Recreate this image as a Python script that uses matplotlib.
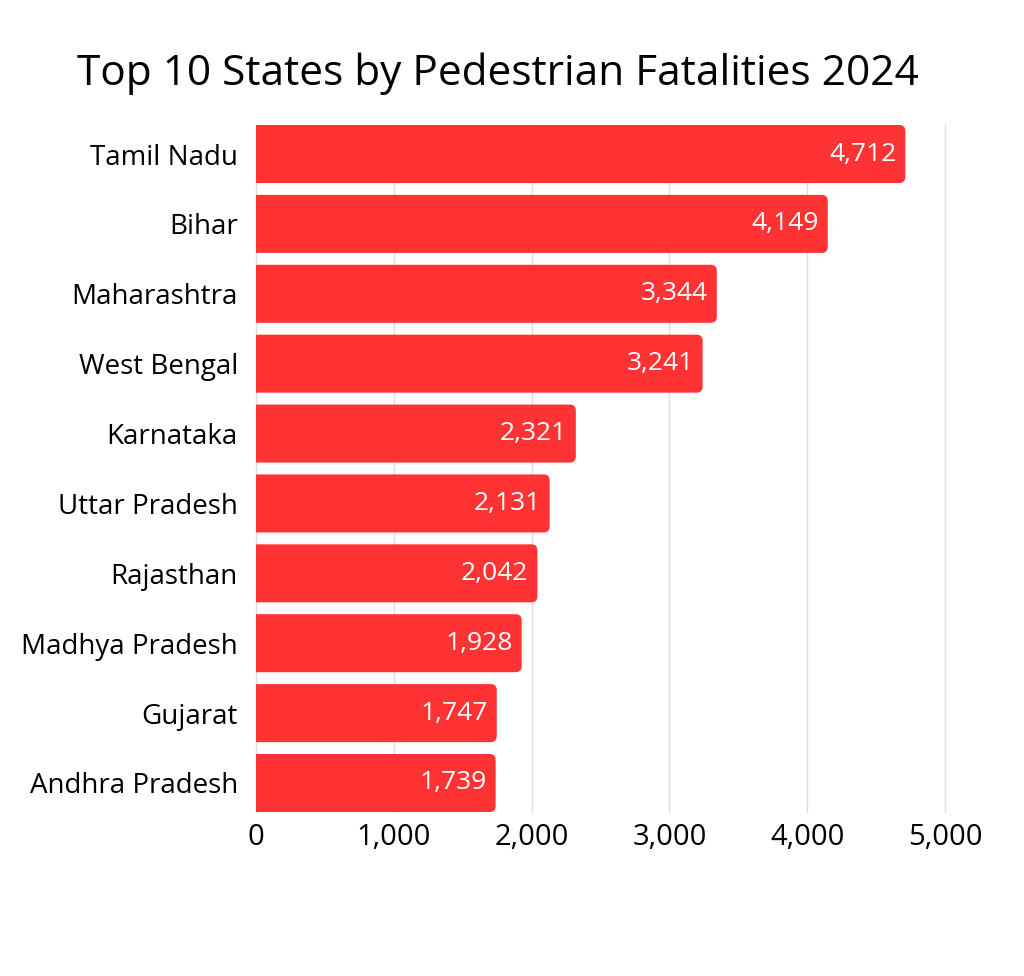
import matplotlib
matplotlib.use("Agg")
import matplotlib.pyplot as plt
from matplotlib.patches import FancyBboxPatch

# Data (top to bottom).
states = ["Tamil Nadu", "Bihar", "Maharashtra", "West Bengal", "Karnataka",
          "Uttar Pradesh", "Rajasthan", "Madhya Pradesh", "Gujarat",
          "Andhra Pradesh"]
fatalities = [4712, 4149, 3344, 3241, 2321, 2131, 2042, 1928, 1747, 1739]
x_ticks = [0, 1000, 2000, 3000, 4000, 5000]

BAR_COLOR = "#FF3333"
BAR_H = 0.83

plt.rcParams["font.family"] = ["Open Sans", "DejaVu Sans"]

fig = plt.figure(figsize=(10.24, 9.76), dpi=100)
ax = fig.add_axes([256 / 1024, 1 - 812 / 976, 689 / 1024, 687 / 976])

ax.set_xlim(0, 5000)
ax.set_ylim(len(states) - 1 + BAR_H / 2, -BAR_H / 2)

# corner radius in data units (x and y scales differ)
rx = 6 * 5000 / 689
ry = 6 * (len(states) - 1 + BAR_H) / 687

# Rounded bars; they start left of zero so the axes clip gives a square left edge.
for i, val in enumerate(fatalities):
    y0 = i - BAR_H / 2
    patch = FancyBboxPatch((-3 * rx, y0), val + 3 * rx, BAR_H,
                           boxstyle="round,pad=0,rounding_size=%f" % rx,
                           mutation_aspect=ry / rx,
                           facecolor=BAR_COLOR, edgecolor="none", zorder=3)
    ax.add_patch(patch)
    ax.text(val - 65, i, f"{val:,}", ha="right", va="center",
            color="white", fontsize=19, zorder=4)

ax.set_yticks(range(len(states)))
ax.set_yticklabels(states, fontsize=20)
ax.set_xticks(x_ticks)
ax.set_xticklabels([f"{t:,}" for t in x_ticks], fontsize=21)
ax.tick_params(axis="both", length=0)
ax.tick_params(axis="y", pad=13)
ax.tick_params(axis="x", pad=8)

ax.grid(axis="x", color="#DDDDDD", linewidth=1, zorder=0)
# keep the 5,000 gridline fully visible at the right edge
for gl in ax.get_xgridlines():
    gl.set_clip_on(False)
for s in ax.spines.values():
    s.set_visible(False)

fig.text(498 / 1024, 1 - 74 / 976, "Top 10 States by Pedestrian Fatalities 2024",
         ha="center", va="center", fontsize=30.5, color="black")

fig.savefig("out.png", dpi=100, facecolor="white")
